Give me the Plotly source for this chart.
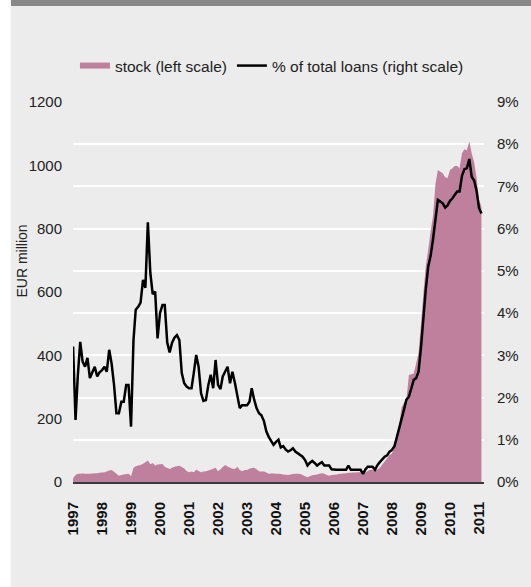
import pandas as pd
import plotly.graph_objects as go

# monthly observations, Jan 1997 - Feb 2011
months = pd.date_range("1997-01-01", periods=170, freq="MS")

# stock of loans (EUR million, left scale)
stock = [
    12, 22, 26, 26, 27, 26, 26, 26, 27, 28, 28, 29,            # 1997
    30, 31, 33, 36, 38, 32, 26, 20, 22, 24, 25, 26,            # 1998
    18, 45, 50, 52, 54, 58, 62, 68, 56, 60, 52, 55,            # 1999
    56, 57, 48, 44, 41, 45, 48, 50, 51, 47, 43, 35,            # 2000
    31, 33, 31, 39, 35, 31, 33, 34, 36, 39, 42, 45,            # 2001
    34, 40, 47, 54, 49, 45, 42, 41, 48, 38, 34, 38,            # 2002
    38, 42, 44, 45, 40, 34, 33, 33, 30, 26, 27, 27,            # 2003
    26, 26, 25, 24, 23, 22, 24, 25, 26, 26, 25, 22,            # 2004
    18, 15, 18, 21, 22, 24, 26, 28, 26, 22, 20, 22,            # 2005
    23, 24, 25, 26, 27, 28, 29, 29, 30, 30, 31, 31,            # 2006
    26, 30, 35, 39, 39, 39, 39, 45, 55, 65, 75, 85,            # 2007
    90, 110, 133, 180, 235, 250, 259, 338, 340, 343, 375, 410,  # 2008
    500, 600, 680, 733, 790, 840, 940, 985, 980, 975, 962, 960,  # 2009
    985, 991, 998, 998, 991, 1038, 1051, 1048, 1075, 1038, 1010, 960,  # 2010
    891, 870,                                                   # 2011
]

# share of total loans (%, right scale)
share = [
    3.21, 1.47, 2.50, 3.32, 2.85, 2.73, 2.94, 2.46, 2.60, 2.73, 2.50, 2.60,  # 1997
    2.65, 2.73, 2.61, 3.13, 2.81, 2.30, 1.63, 1.63, 1.90, 1.90, 2.30, 2.30,  # 1998
    1.31, 3.36, 4.08, 4.15, 4.25, 4.79, 4.60, 6.15, 4.95, 4.45, 4.51, 3.40,  # 1999
    4.00, 4.19, 4.19, 3.30, 3.07, 3.30, 3.42, 3.48, 3.36, 2.58, 2.34, 2.26,  # 2000
    2.22, 2.22, 2.58, 3.01, 2.73, 2.10, 1.92, 1.94, 2.30, 2.54, 2.22, 2.89,  # 2001
    2.30, 2.20, 2.50, 2.60, 2.73, 2.34, 2.61, 2.35, 2.00, 1.75, 1.82, 1.82,  # 2002
    1.82, 1.90, 2.22, 1.95, 1.75, 1.63, 1.58, 1.45, 1.20, 1.07, 0.96, 0.88,  # 2003
    0.95, 1.00, 0.82, 0.85, 0.77, 0.72, 0.75, 0.80, 0.72, 0.68, 0.65, 0.60,  # 2004
    0.52, 0.39, 0.45, 0.50, 0.45, 0.39, 0.43, 0.47, 0.39, 0.39, 0.39, 0.30,  # 2005
    0.29, 0.29, 0.29, 0.29, 0.29, 0.29, 0.39, 0.29, 0.29, 0.29, 0.29, 0.29,  # 2006
    0.19, 0.30, 0.36, 0.36, 0.36, 0.29, 0.40, 0.47, 0.55, 0.60, 0.63, 0.72,  # 2007
    0.76, 0.85, 1.05, 1.30, 1.50, 1.72, 1.95, 2.02, 2.22, 2.42, 2.46, 2.62,  # 2008
    3.20, 4.00, 4.55, 5.10, 5.35, 5.75, 6.20, 6.68, 6.64, 6.60, 6.50, 6.55,  # 2009
    6.66, 6.72, 6.80, 6.88, 6.88, 7.25, 7.41, 7.43, 7.65, 7.23, 7.14, 6.90,  # 2010
    6.49, 6.36,                                                              # 2011
]

years = [str(y) for y in range(1997, 2012)]
year_ticks = [f"{y}-01-01" for y in years]

FONT = "Liberation Sans, Arial, Helvetica, sans-serif"
PANEL = "#ebeceb"
PINK = "#bf809e"

# plot area in pixels: left 73, right 496, top 102, bottom 482
L, R, T, B = 73, 496, 102, 482
PW, PH = R - L, B - T

fig = go.Figure()

fig.add_trace(go.Scatter(
    x=months, y=stock, name="stock (left scale)",
    mode="none", fill="tozeroy", fillcolor=PINK,
    yaxis="y", hoverinfo="skip",
))

fig.add_trace(go.Scatter(
    x=months, y=share, name="% of total loans (right scale)",
    mode="lines", line=dict(color="#000000", width=2.5),
    yaxis="y2", hoverinfo="skip",
))

fig.update_layout(
    width=531, height=587,
    margin=dict(l=L, r=531 - R, t=T, b=587 - B),
    paper_bgcolor=PANEL,
    plot_bgcolor=PANEL,
    font=dict(family=FONT, size=15, color="#222222"),
    showlegend=True,
    legend=dict(
        orientation="h", x=(75 - L) / PW, xanchor="left",
        y=(B - 66) / PH, yanchor="middle",
        bgcolor="rgba(0,0,0,0)", font=dict(size=15.5, color="#222222"),
        itemwidth=30, traceorder="normal", borderwidth=0,
    ),
    xaxis=dict(
        type="date",
        range=["1996-12-31", "2011-03-05"],
        tickmode="array", tickvals=year_ticks, ticktext=years,
        tickangle=-90,
        tickfont=dict(size=15, color="#111111", weight="bold"),
        showgrid=False, zeroline=False,
        showline=True, linecolor="#3a3a3a", linewidth=2,
        ticks="", ticklabelstandoff=12,
    ),
    yaxis=dict(
        range=[0, 1200], dtick=200, tick0=0,
        showgrid=False, zeroline=False,
        ticks="", ticklabelstandoff=10,
        tickfont=dict(size=15, color="#222222"),
    ),
    yaxis2=dict(
        range=[0, 9], dtick=1, tick0=0, ticksuffix="%",
        overlaying="y", side="right",
        showgrid=True, gridcolor="#ffffff", gridwidth=2,
        zeroline=False,
        ticks="", ticklabelstandoff=12,
        tickfont=dict(size=15, color="#222222"),
    ),
    annotations=[
        dict(text="EUR million", textangle=-90, xref="paper", yref="paper",
             x=(20 - L) / PW, y=(B - 261) / PH, xanchor="center", yanchor="middle",
             showarrow=False, font=dict(size=14, color="#222222")),
    ],
    shapes=[
        # dark bar across the top of the panel
        dict(type="rect", xref="paper", yref="paper", layer="below",
             x0=(9 - L) / PW, x1=1.2, y0=(B - 6) / PH, y1=1.4,
             fillcolor="#888888", line=dict(width=0)),
        # white strip at the left edge
        dict(type="rect", xref="paper", yref="paper", layer="below",
             x0=-0.3, x1=(9 - L) / PW, y0=-0.5, y1=1.4,
             fillcolor="#ffffff", line=dict(width=0)),
    ],
)

fig.write_html("out.html", config={"displayModeBar": False},
               post_script="document.body.style.margin='0';")
